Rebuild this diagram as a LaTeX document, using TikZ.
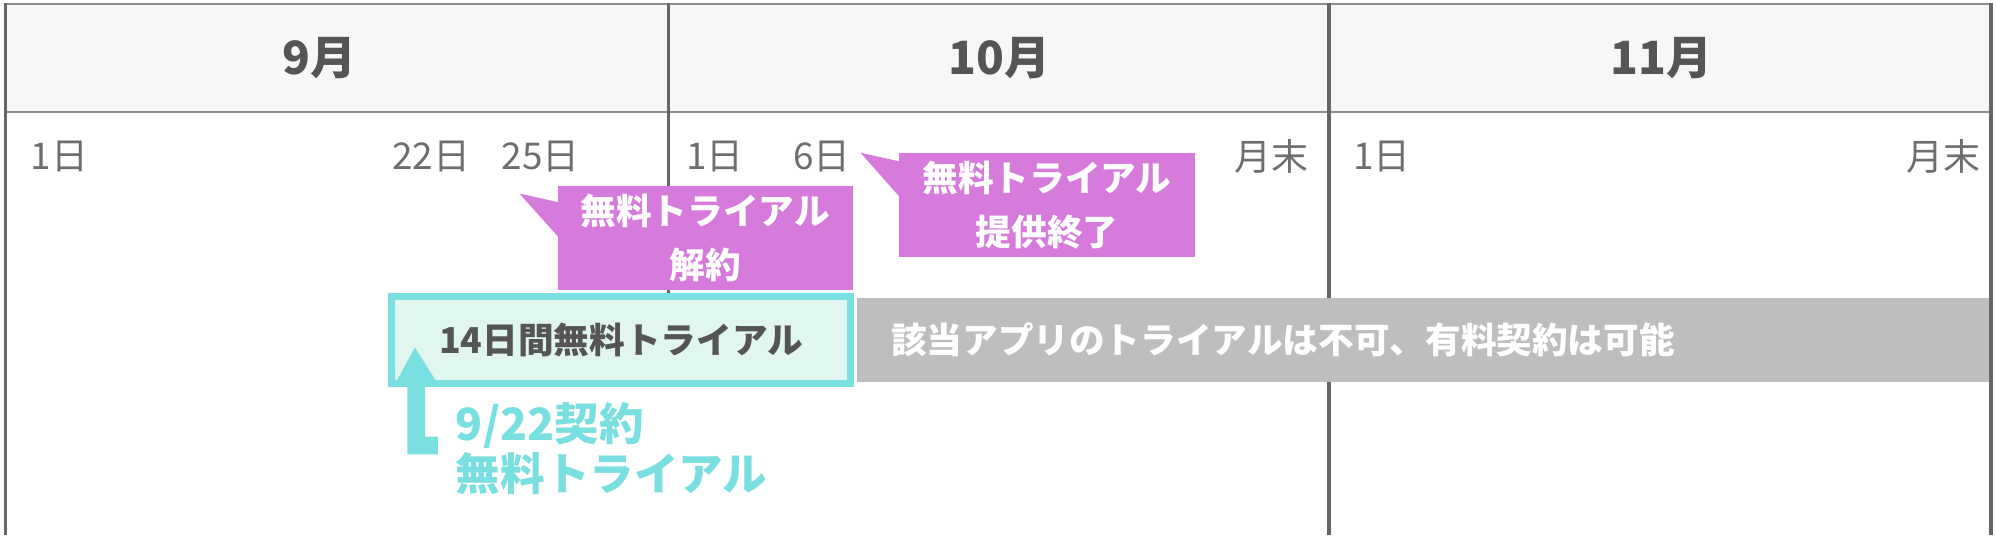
\documentclass[tikz,border=0pt]{standalone}
\usepackage{fontspec}
\setmainfont{Noto Sans CJK JP}
\usetikzlibrary{calc}
\definecolor{hdr}{HTML}{F7F7F7}
\definecolor{gridc}{HTML}{666666}
\definecolor{hline}{HTML}{8C8C8C}
\definecolor{purp}{HTML}{D67BDC}
\definecolor{cyanb}{HTML}{7ADFE0}
\definecolor{mint}{HTML}{E0F6EF}
\definecolor{grayb}{HTML}{BEBEBE}
\definecolor{txt}{HTML}{555555}
\definecolor{daytxt}{HTML}{6E6E6E}
\tikzset{
  monthlbl/.style={font=\fontsize{36}{40}\selectfont\bfseries, text=txt, inner sep=0pt},
  daylbl/.style={font=\fontsize{29}{32}\selectfont, text=daytxt, inner sep=0pt},
  bubble/.style={fill=purp, font=\fontsize{28}{42}\selectfont\bfseries, text=white, align=center, inner sep=0pt, minimum width=232pt, minimum height=82pt},
  gridline/.style={draw=gridc, line width=2.5pt},
  hrule/.style={draw=hline, line width=1.5pt},
}
\begin{document}
\begin{tikzpicture}[x=1pt,y=-1pt]
\useasboundingbox (0,0) rectangle (1568,424);
% header
\fill[hdr] (4,3) rectangle (1564,88);
\draw[hrule] (4,3) -- (1564,3);
\draw[hrule] (4,88) -- (1564,88);
% inner dividers
\draw[gridline] (525,2) -- (525,232);
\draw[gridline] (1044,2) -- (1044,420);
% month labels
\node[monthlbl] (m9) at (251,46) {9月};
\node[monthlbl] (m10) at (785,46) {10月};
\node[monthlbl] (m11) at (1305,46) {11月};
% day labels
\node[daylbl, anchor=west] (d1) at (24,123) {1日};
\node[daylbl, anchor=west] (d22) at (308,123) {22日};
\node[daylbl, anchor=west] (d25) at (394,123) {25日};
\node[daylbl, anchor=west] (o1) at (539,123) {1日};
\node[daylbl, anchor=west] (o6) at (623,123) {6日};
\node[daylbl, anchor=east] (oe) at (1028,123) {月末};
\node[daylbl, anchor=west] (n1) at (1063,123) {1日};
\node[daylbl, anchor=east] (ne) at (1556,123) {月末};
% gray bar
\node[fill=grayb, inner xsep=27pt, inner ysep=0pt, text width=837pt, align=left, minimum height=66pt,
      font=\fontsize{28}{32}\selectfont\bfseries, text=white] (gbar) at (1118.5,267) {該当アプリのトライアルは不可、有料契約は可能};
% outer border
\draw[gridline] (4,2) -- (4,420);
\draw[gridline] (1564,2) -- (1564,420);
% bubbles
\node[bubble] (b1) at (554,187) {無料トライアル\\解約};
\fill[purp] ($(b1.north west)+(0.5,13)$) -- (408,152) -- ($(b1.north west)+(0.5,40)$) -- cycle;
\node[bubble] (b2) at (822.5,161) {無料トライアル\\提供終了};
\fill[purp] ($(b2.north west)+(0.5,7)$) -- (676,120) -- ($(b2.north west)+(0.5,35)$) -- cycle;
% trial box
\node[draw=cyanb, fill=mint, line width=5.5pt, minimum width=360.5pt, minimum height=68.5pt, inner sep=0pt,
      font=\fontsize{28}{32}\selectfont\bfseries, text=txt] (trial) at (488,267) {14日間無料トライアル};
% arrow
\fill[cyanb] (326,273) -- (342,298.5) -- (334,298.5) -- (334,343) -- (344,343) -- (344,357)
  -- (320,357) -- (320,298.5) -- (312,298.5) -- cycle;
\node[anchor=west, align=left, inner sep=0pt, font=\fontsize{35}{39}\selectfont\bfseries, text=cyanb] (note) at (358,352.5) {9/22契約\\無料トライアル};
\end{tikzpicture}
\end{document}
